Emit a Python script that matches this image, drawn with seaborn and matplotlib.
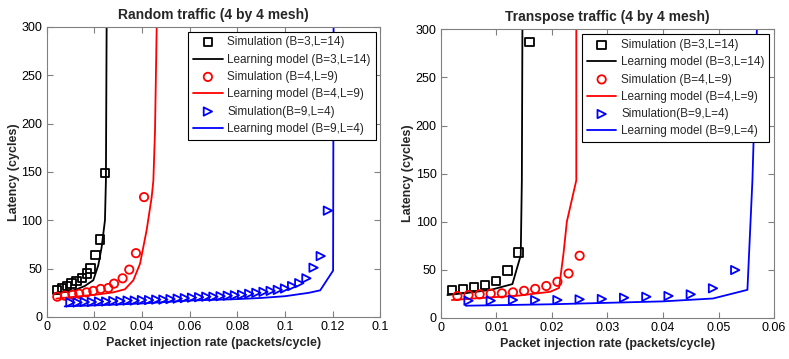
import matplotlib
matplotlib.use('Agg')
import matplotlib.pyplot as plt
import seaborn as sns

# ---- Random traffic (left) ----
r_sq_x = [0.0045, 0.0065, 0.0085, 0.0105, 0.0125, 0.015, 0.017, 0.0185, 0.0205, 0.0225, 0.0245]
r_sq_y = [28, 30, 32, 34.5, 37, 40, 45, 50, 64, 80, 149]
r_k_x = [0.0035, 0.008, 0.012, 0.016, 0.0196, 0.0217, 0.0231, 0.0245, 0.0249, 0.0252, 0.0255]
r_k_y = [24.8, 26, 28, 32, 38, 53.5, 72, 100, 141, 300, 1000]

r_ci_x = [0.0045, 0.0077, 0.0109, 0.0137, 0.0168, 0.0196, 0.0227, 0.0259, 0.0283, 0.0319, 0.0347, 0.0375, 0.0409]
r_ci_y = [21, 22, 23, 24, 25.5, 27, 29, 30, 34.5, 40, 49, 66, 124]
r_r_x = [0.0042, 0.01, 0.016, 0.022, 0.028, 0.0329, 0.0364, 0.0392, 0.042, 0.0441, 0.0448, 0.0455, 0.0462, 0.047]
r_r_y = [19, 20.5, 22, 23.5, 25.5, 28.7, 38, 55, 90, 124, 141, 193, 300, 500]

r_tri_x = [0.010, 0.013, 0.016, 0.019, 0.022, 0.025, 0.028, 0.031, 0.034, 0.037,
           0.040, 0.043, 0.046, 0.049, 0.052, 0.055, 0.058, 0.061, 0.064, 0.067,
           0.070, 0.073, 0.076, 0.079, 0.082, 0.085, 0.088, 0.091, 0.094, 0.097,
           0.100, 0.103, 0.106, 0.109, 0.112, 0.115, 0.118]
r_tri_y = [15, 15, 15.5, 15.5, 16, 16, 16.5, 16.5, 17, 17,
           17.5, 17.5, 18, 18, 18.5, 19, 19.5, 20, 20.5, 21,
           21, 21.5, 22, 22.5, 23, 24, 25, 26, 27, 28,
           29.5, 32, 35, 40, 51, 63, 110]
r_b_x = [0.0076, 0.02, 0.04, 0.06, 0.08, 0.09, 0.10, 0.11, 0.1148, 0.1202, 0.1204, 0.1206]
r_b_y = [11, 12, 14, 17, 18.5, 19.7, 21.5, 25, 27.6, 48, 300, 1000]

# ---- Transpose traffic (right) ----
t_sq_x = [0.002, 0.004, 0.006, 0.008, 0.010, 0.012, 0.014, 0.016]
t_sq_y = [29, 30, 32, 34, 38.5, 49, 68, 287]
t_k_x = [0.0012, 0.005, 0.009, 0.0129, 0.0144, 0.0146, 0.0147, 0.0148]
t_k_y = [23.6, 26, 29, 35, 65, 143, 300, 1000]

t_ci_x = [0.003, 0.005, 0.007, 0.009, 0.011, 0.013, 0.015, 0.017, 0.019, 0.021, 0.023, 0.025]
t_ci_y = [22.6, 23.6, 24.3, 25, 25.4, 26.4, 28, 30, 33, 37.4, 46, 64.5]
t_r_x = [0.002, 0.006, 0.010, 0.014, 0.0197, 0.0213, 0.0221, 0.0227, 0.0244, 0.0244]
t_r_y = [18.4, 20, 21.5, 23, 27, 31, 67, 100, 143, 1000]

t_tri_x = [0.005, 0.009, 0.013, 0.017, 0.021, 0.025, 0.029, 0.033, 0.037, 0.041, 0.045, 0.049, 0.053]
t_tri_y = [17.7, 17.7, 18.4, 18.4, 18.4, 19.1, 19.5, 20.8, 21.8, 22.6, 24.3, 30.6, 49.6]
t_b_x = [0.0045, 0.02, 0.03, 0.04, 0.049, 0.0552, 0.0561, 0.0569, 0.0575]
t_b_y = [12.5, 14, 15.5, 17, 20, 29, 143, 300, 420]

labels = ['Simulation (B=3,L=14)', 'Learning model (B=3,L=14)',
          'Simulation (B=4,L=9)', 'Learning model (B=4,L=9)',
          'Simulation(B=9,L=4)', 'Learning model (B=9,L=4)']

sns.set_style('ticks')
plt.rcParams['font.family'] = ['Liberation Sans', 'DejaVu Sans']

fig = plt.figure(figsize=(7.89, 3.59), dpi=100)
ax1 = fig.add_axes([0.059, 0.117, 0.423, 0.808])
ax2 = fig.add_axes([0.5586, 0.115, 0.4225, 0.803])

gray = '#808080'


def draw(ax, series, title, xticks, xticklabels, xlim):
    for (sx, sy, lx, ly, col, mk), i in zip(series, range(3)):
        sns.scatterplot(x=sx, y=sy, ax=ax, marker=mk, s=36, color=col,
                        facecolor='none', edgecolor=col, linewidth=1.3,
                        label=labels[2 * i], zorder=3)
        sns.lineplot(x=lx, y=ly, ax=ax, color=col, linewidth=1.3,
                     estimator=None, sort=False, label=labels[2 * i + 1])
    ax.set_xlim(*xlim)
    ax.set_ylim(0, 300)
    ax.set_xticks(xticks)
    ax.set_xticklabels(xticklabels)
    ax.set_yticks([0, 50, 100, 150, 200, 250, 300])
    ax.tick_params(direction='in', top=True, right=True, length=4,
                   color=gray, labelsize=9, labelcolor='black', pad=3)
    for sp in ax.spines.values():
        sp.set_visible(True)
        sp.set_color(gray)
        sp.set_linewidth(0.8)
    ax.set_title(title, fontsize=10, fontweight='bold', pad=6)
    ax.set_xlabel('Packet injection rate (packets/cycle)', fontsize=9, fontweight='bold', labelpad=3)
    ax.set_ylabel('Latency (cycles)', fontsize=9, fontweight='bold', labelpad=1)
    leg = ax.legend(loc='upper right', fontsize=8.5, frameon=True, fancybox=False,
                    edgecolor='black', framealpha=1, labelspacing=0.45,
                    handlelength=2.5, handletextpad=0.4, borderaxespad=0.4,
                    borderpad=0.4)
    leg.get_frame().set_linewidth(0.8)


draw(ax1,
     [(r_sq_x, r_sq_y, r_k_x, r_k_y, 'black', 's'),
      (r_ci_x, r_ci_y, r_r_x, r_r_y, 'red', 'o'),
      (r_tri_x, r_tri_y, r_b_x, r_b_y, 'blue', '>')],
     'Random traffic (4 by 4 mesh)',
     [0, 0.02, 0.04, 0.06, 0.08, 0.1, 0.12, 0.14],
     ['0', '0.02', '0.04', '0.06', '0.08', '0.1', '0.12', '0.1'],
     (0, 0.14))

draw(ax2,
     [(t_sq_x, t_sq_y, t_k_x, t_k_y, 'black', 's'),
      (t_ci_x, t_ci_y, t_r_x, t_r_y, 'red', 'o'),
      (t_tri_x, t_tri_y, t_b_x, t_b_y, 'blue', '>')],
     'Transpose traffic (4 by 4 mesh)',
     [0, 0.01, 0.02, 0.03, 0.04, 0.05, 0.06],
     ['0', '0.01', '0.02', '0.03', '0.04', '0.05', '0.06'],
     (0, 0.06))

fig.savefig('out.png', dpi=100)
